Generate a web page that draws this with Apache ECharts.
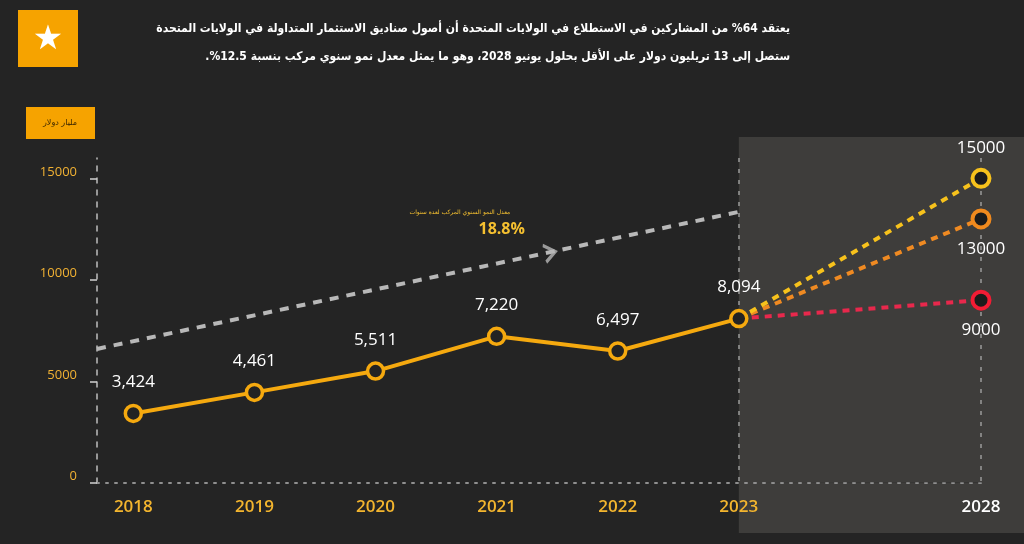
<!DOCTYPE html>
<html><head><meta charset="utf-8">
<script src="https://cdn.jsdelivr.net/npm/echarts@6/dist/echarts.min.js"></script>
<style>html,body{margin:0;padding:0;background:#242424;}#c{width:1024px;height:544px;direction:rtl;}</style>
</head><body><div id="c"></div>
<script>
// ---- data ----
const years = ['2018', '2019', '2020', '2021', '2022', '2023'];
const etfAssets = [3424, 4461, 5511, 7220, 6497, 8094];
const forecastYear = '2028';
const scenarioValues = [15000, 13000, 9000];
const yTickValues = [0, 5000, 10000, 15000];
const trendValues = [6600, 13350];
const trendArrowValue = 11340;
const cagrText = '18.8%';
const cagrCaption = 'معدل النمو السنوي المركب لعدة سنوات';
const unitLabel = 'مليار دولار';
const headline1 = 'يعتقد 64% من المشاركين في الاستطلاع في الولايات المتحدة أن أصول صناديق الاستثمار المتداولة في الولايات المتحدة';
const headline2 = 'ستصل إلى 13 تريليون دولار على الأقل بحلول يونيو 2028، وهو ما يمثل معدل نمو سنوي مركب بنسبة 12.5%.';

// ---- layout helpers ----
const lastIdx = years.length - 1;
const forecastIdx = years.length + 1;
const xMin = -0.3;
const labelPositions = years.map((y, i) => i).concat([forecastIdx]);
const labelTexts = years.concat([forecastYear]);
const scenarioColors = ['#f7c21c', '#ef8a22', '#e8284c'];
const scenarioBorder = ['#f7c21c', '#f08a1e', '#f21c34'];
const scenarioLabelPos = ['top', 'bottom', 'bottom'];
const fmt = v => v.toLocaleString('en-US');
const lastVal = etfAssets[lastIdx];
const hi = Math.max(...scenarioValues), lo = Math.min(...scenarioValues);

const chart = echarts.init(document.getElementById('c'));

const series = [];
// dark band between scenarios
series.push({
  type: 'line', stack: 'band', silent: true, symbol: 'none', z: 1,
  lineStyle: { opacity: 0 },
  data: [[lastIdx, lastVal], [forecastIdx, lo]]
});
series.push({
  type: 'line', stack: 'band', silent: true, symbol: 'none', z: 1,
  lineStyle: { opacity: 0 },
  areaStyle: { color: '#1e1e1e', opacity: 1 },
  data: [[lastIdx, 0], [forecastIdx, hi - lo]]
});
// trend line
series.push({
  type: 'line', silent: true, symbol: 'none', z: 2,
  lineStyle: { color: '#b8b8b8', width: 4, type: [9, 8] },
  data: [[xMin, trendValues[0]], [lastIdx, trendValues[1]]]
});
series.push({
  type: 'scatter', silent: true, z: 3,
  symbol: 'path://M0,0 L10,10 L0,20', symbolSize: [11, 17], symbolRotate: 12,
  itemStyle: { color: 'none', borderColor: '#b8b8b8', borderWidth: 3 },
  data: [[3.44, trendArrowValue]]
});
// scenario lines
scenarioValues.forEach((v, k) => {
  series.push({
    type: 'line', z: 4 + (2 - k),
    lineStyle: { color: scenarioColors[k], width: 4, type: [7, 6] },
    symbol: 'circle', symbolSize: 17,
    itemStyle: { color: '#1c1c1c', borderColor: scenarioBorder[k], borderWidth: 4 },
    label: { show: false },
    data: [
      { value: [lastIdx, lastVal], symbol: 'none' },
      { value: [forecastIdx, v], label: { show: true, position: scenarioLabelPos[k], distance: 11, color: '#ffffff', fontSize: 17, fontFamily: 'Open Sans', formatter: p => String(p.value[1]) } }
    ]
  });
});
// main line
series.push({
  type: 'line', z: 10,
  lineStyle: { color: '#f5a90f', width: 4 },
  symbol: 'circle', symbolSize: 16, showAllSymbol: true,
  itemStyle: { color: '#232323', borderColor: '#f5a90f', borderWidth: 3.5 },
  label: { show: true, position: 'top', distance: 13, color: '#ffffff', fontSize: 17, fontFamily: 'Open Sans', formatter: p => fmt(p.value[1]) },
  data: etfAssets.map((v, i) => [i, v])
});

chart.setOption({
  backgroundColor: '#242424',
  animation: false,
  grid: { left: 97, right: 43, top: 158, bottom: 61 },
  xAxis: {
    type: 'value', min: xMin, max: forecastIdx,
    axisLine: { show: true, onZero: false, lineStyle: { color: '#8f8f8f', width: 2, type: [2, 7] } },
    axisTick: { show: false, customValues: [lastIdx, forecastIdx] },
    splitLine: { show: true, lineStyle: { color: '#9a9a9a', width: 1.5, type: [4, 7] } },
    axisLabel: {
      customValues: labelPositions, margin: 16,
      formatter: v => {
        const i = labelPositions.indexOf(v);
        return v === forecastIdx ? '{w|' + labelTexts[i] + '}' : '{y|' + labelTexts[i] + '}';
      },
      rich: {
        y: { color: '#f3b52e', fontSize: 17, fontFamily: 'Open Sans', fontWeight: 600 },
        w: { color: '#ffffff', fontSize: 17, fontFamily: 'Open Sans', fontWeight: 600 }
      }
    }
  },
  yAxis: {
    type: 'value', min: 0, max: 16000,
    splitLine: { show: false },
    axisLine: { show: true, onZero: false, lineStyle: { color: '#bdbdbd', width: 1.5, type: [5, 7] } },
    axisTick: { show: true, customValues: yTickValues, length: 7, lineStyle: { color: '#cfcfcf', width: 1.5 } },
    axisLabel: {
      customValues: yTickValues, margin: 20, color: '#f2b233', fontSize: 13,
      fontFamily: 'Open Sans', verticalAlign: 'bottom', formatter: v => String(v)
    }
  },
  series: series
});

const p0 = chart.convertToPixel({ gridIndex: 0 }, [lastIdx, 0]);
const arrowPx = chart.convertToPixel({ gridIndex: 0 }, [3.44, trendArrowValue]);

chart.setOption({
  graphic: [
    { type: 'rect', z: -1, silent: true, shape: { x: p0[0], y: 137, width: 1024 - p0[0], height: 396 }, style: { fill: '#3e3d3b' } },
    { type: 'rect', shape: { x: 18, y: 10, width: 60, height: 57 }, style: { fill: '#f6a300' } },
    { type: 'text', style: { x: 48, y: 40, text: '★', fill: '#ffffff', font: '34px "DejaVu Sans"', align: 'center', verticalAlign: 'middle', shadowBlur: 8, shadowColor: '#fff6d0' } },
    { type: 'text', style: { x: 790, y: 29, text: headline1, fill: '#ffffff', font: 'bold 12px "DejaVu Sans Condensed", "DejaVu Sans"', align: 'right', verticalAlign: 'middle' } },
    { type: 'text', style: { x: 790, y: 57, text: headline2, fill: '#ffffff', font: 'bold 12px "DejaVu Sans Condensed", "DejaVu Sans"', align: 'right', verticalAlign: 'middle' } },
    { type: 'rect', shape: { x: 26, y: 107, width: 69, height: 32 }, style: { fill: '#f6a300' } },
    { type: 'text', style: { x: 60, y: 123, text: unitLabel, fill: '#3a2600', font: '8px "DejaVu Sans"', align: 'center', verticalAlign: 'middle' } },
    { type: 'text', style: { x: arrowPx[0] - 90, y: arrowPx[1] - 40, text: cagrCaption, fill: '#f5c030', font: '6px "DejaVu Sans"', align: 'center', verticalAlign: 'middle' } },
    { type: 'text', style: { x: arrowPx[0] - 25, y: arrowPx[1] - 23, text: cagrText, fill: '#f5c030', font: 'bold 16px "Open Sans"', align: 'right', verticalAlign: 'middle' } }
  ]
});
</script></body></html>
